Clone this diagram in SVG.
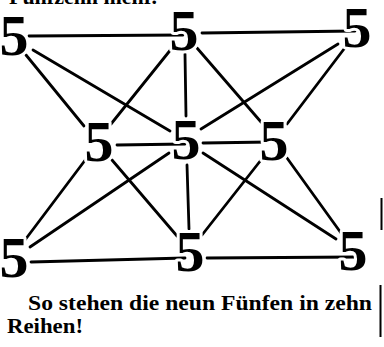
<svg xmlns="http://www.w3.org/2000/svg" width="384" height="347" viewBox="0 0 384 347">
<style>
.d{font-family:"Liberation Serif","Times New Roman",serif;font-size:58px;font-weight:bold;fill:#000;stroke:#fff;stroke-width:6;stroke-linejoin:round;paint-order:stroke;text-anchor:middle}
.t{font-family:"Liberation Serif","Times New Roman",serif;font-size:20px;font-weight:bold;fill:#000}
#connectors line{stroke:#000;stroke-width:2.8;stroke-linecap:round}
</style>
<rect width="384" height="347" fill="#fff"/>
<text class="t" x="9" y="4" textLength="148" lengthAdjust="spacingAndGlyphs">Fünfzehn mehr.</text>
<g id="connectors">
<line x1="29" y1="36" x2="183" y2="35"/>
<line x1="202" y1="33" x2="355" y2="31"/>
<line x1="117" y1="145" x2="185" y2="144"/>
<line x1="203" y1="143" x2="270" y2="142"/>
<line x1="31" y1="262" x2="185" y2="258"/>
<line x1="207" y1="258" x2="357" y2="257"/>
<line x1="185" y1="54" x2="186" y2="116"/>
<line x1="187" y1="165" x2="189" y2="229"/>
<line x1="33" y1="50" x2="170" y2="131"/>
<line x1="203" y1="153" x2="336" y2="239"/>
<line x1="338" y1="44" x2="201" y2="129"/>
<line x1="169" y1="153" x2="30" y2="247"/>
<line x1="26" y1="55" x2="84" y2="126"/>
<line x1="112" y1="160" x2="177" y2="236"/>
<line x1="344" y1="49" x2="287" y2="124"/>
<line x1="261" y1="160" x2="202" y2="235"/>
<line x1="25" y1="240" x2="86" y2="159"/>
<line x1="111" y1="124" x2="172" y2="48"/>
<line x1="341" y1="233" x2="287" y2="158"/>
<line x1="261" y1="122" x2="197" y2="48"/>
</g>
<g id="n-tl"><text class="d" x="14" y="55">5</text></g>
<g id="n-tm"><text class="d" x="184" y="50">5</text></g>
<g id="n-tr"><text class="d" x="357" y="47">5</text></g>
<g id="n-ml"><text class="d" x="99" y="161">5</text></g>
<g id="n-c"><text class="d" x="186" y="159">5</text></g>
<g id="n-mr"><text class="d" x="274" y="160">5</text></g>
<g id="n-bl"><text class="d" x="14" y="277">5</text></g>
<g id="n-bm"><text class="d" x="190" y="271">5</text></g>
<g id="n-br"><text class="d" x="353" y="270">5</text></g>
<text class="t" x="28" y="310" textLength="344" lengthAdjust="spacingAndGlyphs">So stehen die neun Fünfen in zehn</text>
<text class="t" x="7" y="333" textLength="76" lengthAdjust="spacingAndGlyphs">Reihen!</text>
<rect x="379.5" y="285" width="2" height="52" fill="#000"/>
<rect x="380.5" y="198" width="2" height="32" fill="#000"/>
</svg>
